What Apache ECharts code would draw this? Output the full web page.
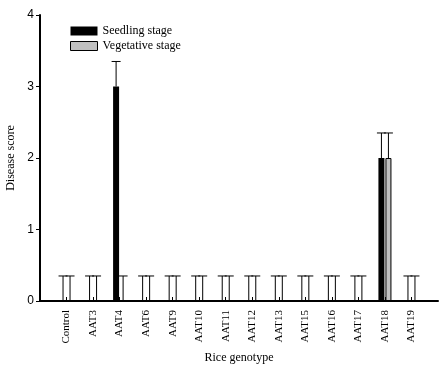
<!DOCTYPE html>
<html><head><meta charset="utf-8">
<script src="https://cdn.jsdelivr.net/npm/echarts@6/dist/echarts.min.js"></script>
<style>html,body{margin:0;padding:0;background:#fff}#c{width:447px;height:370px}</style>
</head><body><div id="c"></div>
<script>
const categories = ['Control','AAT3','AAT4','AAT6','AAT9','AAT10','AAT11','AAT12','AAT13','AAT15','AAT16','AAT17','AAT18','AAT19'];
const seedling =    [0,0,3,0,0,0,0,0,0,0,0,0,2,0];
const seedlingErr = [0.35,0.35,0.35,0.35,0.35,0.35,0.35,0.35,0.35,0.35,0.35,0.35,0.35,0.35];
const vegetative =  [0,0,0,0,0,0,0,0,0,0,0,0,2,0];
const vegetativeErr=[0.35,0.35,0.35,0.35,0.35,0.35,0.35,0.35,0.35,0.35,0.35,0.35,0.35,0.35];
const yTicks = [0,1,2,3,4];

const serif = 'Liberation Serif';
const axisCats = [''].concat(categories, ['']);
const pad = arr => ['-'].concat(arr, ['-']);

function errSeries(vals, errs, off) {
  return {
    type: 'custom',
    z: 5,
    silent: true,
    data: vals.map((v, i) => [i + 1, v, errs[i]]),
    renderItem: function (params, api) {
      const x = api.value(0), v = api.value(1), e = api.value(2);
      const b = api.coord([x, v]);
      const t = api.coord([x, v + e]);
      const cx = b[0] + off;
      const st = { stroke: '#000', lineWidth: 1 };
      return { type: 'group', children: [
        { type: 'line', shape: { x1: cx, y1: b[1], x2: cx, y2: t[1] }, style: st },
        { type: 'line', shape: { x1: cx - 4.5, y1: t[1], x2: cx + 4.5, y2: t[1] }, style: st }
      ]};
    }
  };
}

const chart = echarts.init(document.getElementById('c'));
chart.setOption({
  animation: false,
  backgroundColor: '#fff',
  grid: { left: 40, right: 9, top: 15, bottom: 69, containLabel: false, outerBoundsMode: 'none' },
  legend: {
    left: 70, top: 25, orient: 'vertical', itemWidth: 27, itemHeight: 9, itemGap: 3, padding: 0,
    icon: 'rect',
    textStyle: { fontFamily: serif, fontSize: 12, color: '#000' },
    data: [
      { name: 'Seedling stage', itemStyle: { color: '#000', borderWidth: 0 } },
      { name: 'Vegetative stage', itemStyle: { color: '#c0c0c0', borderColor: '#000', borderWidth: 1 } }
    ]
  },
  xAxis: {
    type: 'category', data: axisCats, boundaryGap: false,
    name: 'Rice genotype', nameLocation: 'middle', nameGap: 50,
    nameTextStyle: { fontFamily: serif, fontSize: 12, color: '#000' },
    axisLine: { lineStyle: { color: '#000', width: 2 } },
    axisTick: { inside: true, length: 4, interval: (i, v) => v !== '', lineStyle: { color: '#000', width: 1 } },
    axisLabel: { interval: 0, rotate: 90, margin: 9, fontFamily: serif, fontSize: 11, color: '#000' },
    splitLine: { show: false }
  },
  yAxis: {
    type: 'value', min: yTicks[0], max: yTicks[yTicks.length - 1], interval: 1,
    name: 'Disease score', nameLocation: 'middle', nameGap: 20,
    nameTextStyle: { fontFamily: serif, fontSize: 12, color: '#000' },
    axisLine: { show: true, lineStyle: { color: '#000', width: 2 } },
    axisTick: { show: true, length: 4, lineStyle: { color: '#000', width: 1 } },
    axisLabel: { fontFamily: 'Liberation Sans', fontSize: 12, color: '#000', margin: 6 },
    splitLine: { show: false }
  },
  series: [
    { name: 'Seedling stage', type: 'bar', data: pad(seedling), barWidth: 6, barGap: '17%',
      itemStyle: { color: '#000' } },
    { name: 'Vegetative stage', type: 'bar', data: pad(vegetative), barWidth: 6,
      itemStyle: { color: '#c0c0c0', borderColor: '#000', borderWidth: 1 } },
    errSeries(seedling, seedlingErr, -3.5),
    errSeries(vegetative, vegetativeErr, 3.5)
  ]
});
</script></body></html>
